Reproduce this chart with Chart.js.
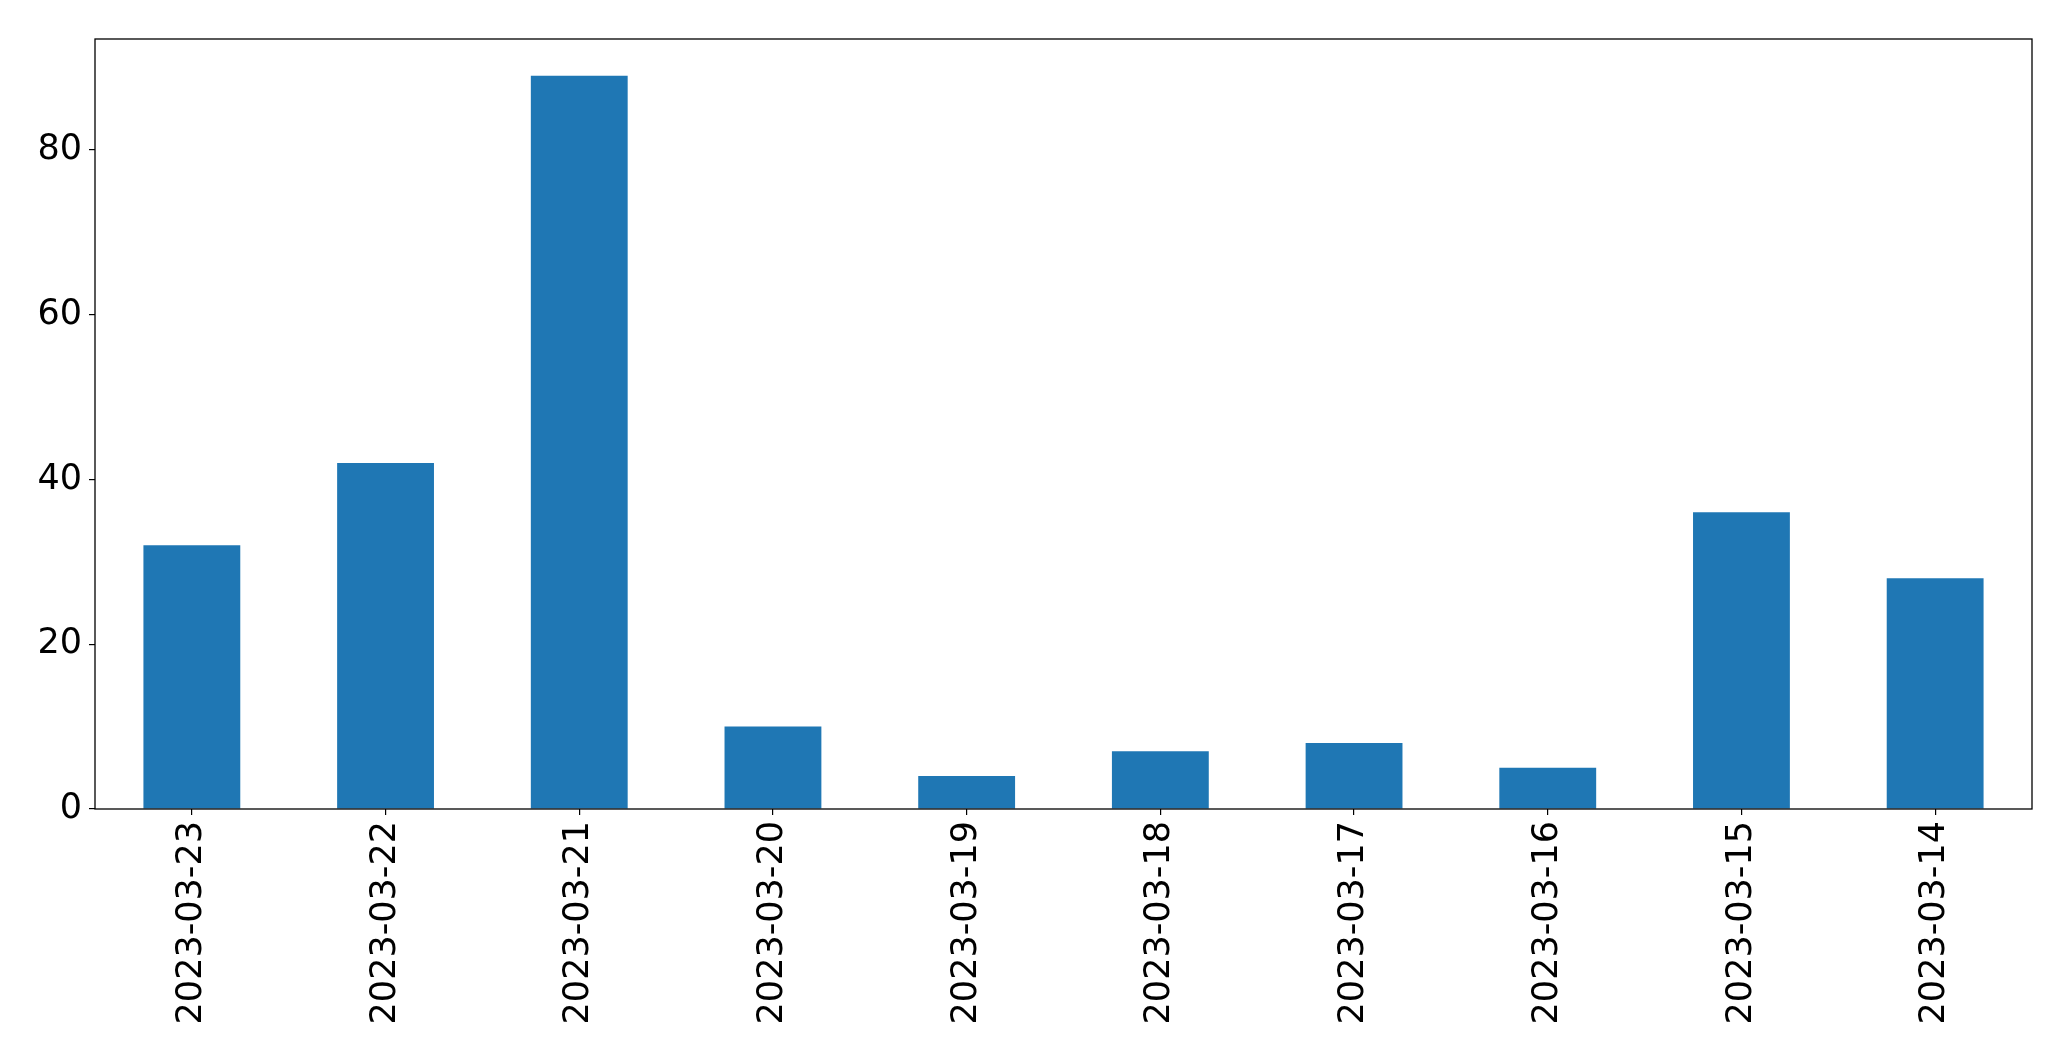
<!DOCTYPE html>
<html>
<head>
<meta charset="utf-8">
<script src="https://cdn.jsdelivr.net/npm/chart.js@4"></script>
<style>
  html, body { margin: 0; padding: 0; background: #fff; }
  canvas { display: block; }
</style>
</head>
<body>
<canvas id="myChart" width="2071" height="1061"></canvas>
<script>
// data
var dates = ['2023-03-23', '2023-03-22', '2023-03-21', '2023-03-20', '2023-03-19',
             '2023-03-18', '2023-03-17', '2023-03-16', '2023-03-15', '2023-03-14'];
var counts = [32, 42, 89, 10, 4, 7, 8, 5, 36, 28];
var yTicks = [0, 20, 40, 60, 80];

// box around the plot area (matplotlib style spines)
var frame = {
    id: 'frame',
    afterDraw: function(chart) {
        var a = chart.chartArea, c = chart.ctx;
        c.save();
        c.strokeStyle = '#000';
        c.lineWidth = 1.3;
        c.strokeRect(a.left, a.top, a.right - a.left, a.bottom - a.top);
        c.restore();
    }
};

var ctx = document.getElementById('myChart').getContext('2d');
var myChart = new Chart(ctx, {
    type: 'bar',
    data: {
        labels: dates,
        datasets: [{
            data: counts,
            backgroundColor: '#1f77b4',
            borderWidth: 0,
            barPercentage: 0.5,
            categoryPercentage: 1.0
        }]
    },
    options: {
        responsive: false,
        animation: false,
        layout: { padding: { top: 39, right: 39, left: 0, bottom: 0 } },
        plugins: {
            legend: { display: false },
            tooltip: { enabled: false }
        },
        scales: {
            x: {
                offset: true,
                grid: {
                    offset: false,
                    drawOnChartArea: false,
                    drawTicks: true,
                    tickLength: 6,
                    color: '#000',
                    lineWidth: 1.2
                },
                border: { display: false },
                ticks: {
                    color: '#000',
                    font: { family: 'DejaVu Sans', size: 35 },
                    minRotation: 90,
                    maxRotation: 90,
                    padding: 6,
                    autoSkip: false
                },
                afterFit: function(scale) { scale.height = 252; }
            },
            y: {
                min: 0,
                max: 93.45,
                grid: {
                    drawOnChartArea: false,
                    drawTicks: true,
                    tickLength: 6,
                    color: '#000',
                    lineWidth: 1.2
                },
                border: { display: false },
                afterBuildTicks: function(scale) {
                    scale.ticks = yTicks.map(function(v) { return { value: v }; });
                },
                ticks: {
                    color: '#000',
                    font: { family: 'DejaVu Sans', size: 35 },
                    padding: 7
                },
                afterFit: function(scale) { scale.width = 95; }
            }
        }
    },
    plugins: [frame]
});
</script>
</body>
</html>
